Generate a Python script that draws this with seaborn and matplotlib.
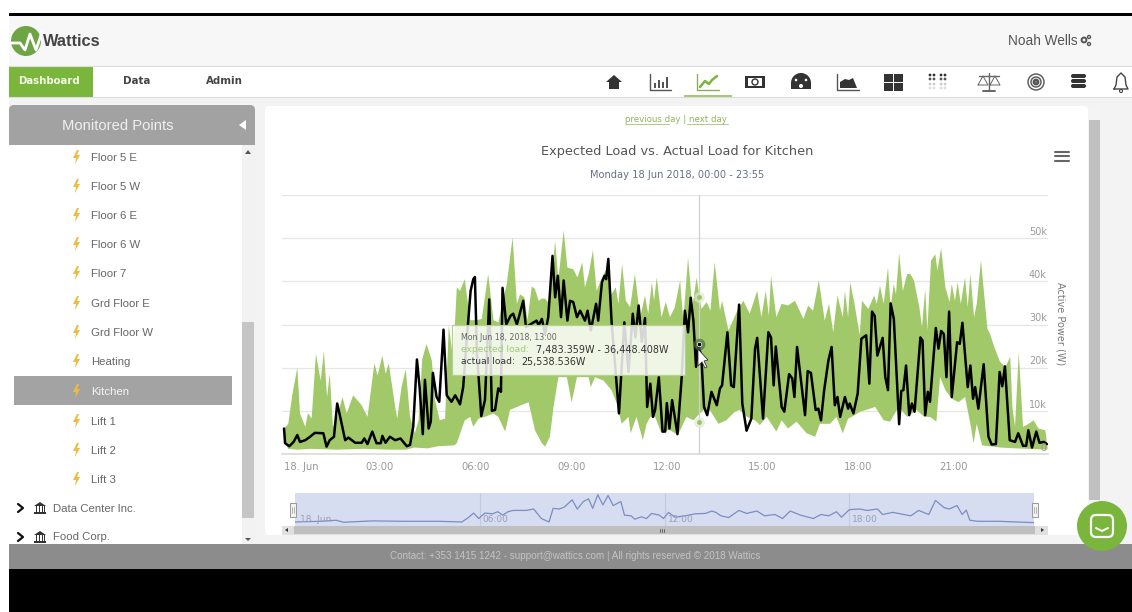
import numpy as np
import pandas as pd
import seaborn as sns
import matplotlib
matplotlib.use('Agg')
from matplotlib import pyplot as plt
from matplotlib.patches import Rectangle, Circle, Polygon, FancyBboxPatch, Wedge
from matplotlib.transforms import blended_transform_factory

# (minutes after midnight, kW)
upper_load = [(0,5.9),(8,7),(16,14),(25,20),(30,9.4),(40,6.3),(45,9.5),(52,8.2),(60,23.2),(69,17),(75,23.8),(81,13.2),
    (86,18.6),(92,6.3),(100,8.6),(110,13.2),(118,9.4),(130,13.6),(146,11.3),(157,8.6),(170,21),(176,18.2),(185,22.8),
    (191,18.6),(197,21),(209,11),(213,8.2),(221,15.5),(229,19.6),(237,8.6),(246,4.8),(253,7.8),(260,22),(268,25.5),
    (278,21.7),(284,12.5),(293,7.8),(303,8.2),(310,29.8),(318,22),(325,38.6),(331,37.8),(340,40.5),(350,31),(363,31),
    (372,31.3),(384,41.7),(394,31),(403,30.5),(419,39.4),(430,50.2),(438,34.8),(444,37),(452,36.3),(458,31),(466,38.8),
    (472,38.2),(479,35.5),(485,36),(491,36),(499,34.8),(510,49.4),(516,40.5),(526,51.8),(533,43.2),(544,42.8),(552,40.9),
    (561,44.4),(566,38.6),(573,41.7),(581,47.2),(588,37.8),(598,40.9),(608,43.2),(616,37),(624,38.6),(629,34.8),(636,44),
    (643,35.5),(651,34),(660,41.7),(670,31.7),(679,36.7),(685,32.5),(692,39.8),(696,35.5),(701,40.9),(710,31.7),(718,35.2),
    (726,31.7),(735,34),(745,40.2),(751,30.9),(760,45.5),(768,34),(776,40.9),(785,33.6),(795,35.2),(802,33.2),(810,44.4),
    (820,33.2),(824,35.5),(836,28.6),(854,33.6),(864,35.5),(876,32.5),(890,37.8),(898,31.7),(906,37.8),(912,32),(916,41.3),
    (926,31.7),(936,34.8),(948,34.4),(961,35.5),(977,31.3),(986,34.4),(995,33.2),(1006,40.2),(1017,30.9),(1025,34.8),
    (1033,28.2),(1041,36.7),(1051,31.7),(1055,37.8),(1061,31.7),(1065,39.8),(1073,34.8),(1083,27.5),(1087,35.5),(1099,33.6),
    (1110,36.7),(1115,34.8),(1121,39),(1128,34.8),(1136,43.2),(1141,34),(1147,39.4),(1151,37),(1157,46.5),(1164,37.8),
    (1172,41.7),(1178,41.7),(1185,40.2),(1195,34),(1200,29.4),(1206,38.2),(1210,28.6),(1217,44.8),(1225,46.3),(1229,42.5),
    (1236,47.7),(1244,38.6),(1252,35.2),(1256,39.4),(1262,35.5),(1267,39.8),(1273,34.8),(1281,40.9),(1286,34),(1291,41.7),
    (1298,31.7),(1303,34.8),(1311,44.9),(1323,29),(1328,27.8),(1336,24.8),(1347,21.3),(1357,20.2),(1366,22.5),(1370,10.9),
    (1375,6.3),(1382,23.6),(1390,6.3),(1397,6.7),(1410,7.8),(1419,5.9),(1432,5.5),(1436,1.7)]

lower_load = [(0,3),(8,1.2),(25,1),(50,1.2),(100,1),(150,1.2),(200,1),(230,1),(245,1.5),(270,1.3),(290,1.8),(320,2),(325,2.5),
    (340,7.8),(350,8.6),(356,6.3),(366,8.2),(378,8.6),(394,9.4),(403,8.6),(416,5.2),(425,10.2),(438,10.9),(460,12),(472,5.5),
    (485,2.5),(491,1.7),(500,4),(507,10.9),(516,17.8),(532,17.8),(541,12),(551,17.8),(573,17.8),(577,15.5),(585,17.8),(601,17),
    (616,14.8),(626,11.7),(635,7),(648,8.6),(652,4.8),(663,8.6),(675,3.2),(682,7),(689,8.6),(698,8.6),(710,4.8),(720,5.5),
    (726,5.5),(741,4.4),(757,8.6),(770,7.8),(789,10.2),(801,10.2),(817,7),(832,7.8),(848,9.8),(857,10.2),(871,8.6),(886,7.8),
    (895,6.7),(908,8.6),(926,5.2),(936,7.8),(948,5.9),(964,7.5),(983,4.8),(999,4),(1008,7),(1027,7),(1039,8.6),(1051,4.8),
    (1061,8.2),(1068,8.6),(1084,9.8),(1112,10.9),(1128,7.8),(1140,7.5),(1156,10.9),(1172,8.6),(1190,10.2),(1204,8.6),(1215,8.6),
    (1227,7.5),(1234,17.8),(1244,14.8),(1256,12.8),(1269,12),(1281,13.2),(1292,6.3),(1297,2.5),(1303,7),(1313,2),(1328,1.8),
    (1347,1.5),(1378,1.3),(1436,1)]

actual_load = [(0,5.9),(2,2.5),(10,1.8),(18,2.8),(25,4.4),(30,2.8),(40,3.2),(49,4),(58,4.9),(74,4.8),(80,1.7),(86,3.2),(94,4),
    (100,11.7),(105,9),(115,3.2),(121,3.8),(134,2.6),(146,2.6),(151,3.6),(157,2.3),(166,5.2),(174,2.5),(182,2.5),(185,4.2),
    (191,2.6),(199,4),(209,3.2),(219,3.6),(231,1.8),(237,2.1),(243,6.3),(250,21.9),(255,15.5),(261,4.6),(265,17.2),(272,5.9),
    (276,7.5),(280,18.8),(287,13.2),(292,12.1),(300,28.8),(306,13.6),(315,12.1),(322,13.6),(331,11.5),(337,15.5),(344,27),
    (351,37.8),(356,40.5),(359,41),(363,23.2),(371,8.8),(378,12.5),(386,35.8),(391,10),(397,10.2),(403,15.2),(408,14.4),
    (411,38.5),(418,30),(426,32),(431,32.5),(438,30),(450,35.5),(455,29.4),(475,30.9),(479,29.8),(485,31.3),(491,27.8),(497,31.7),
    (505,45.9),(510,36.3),(515,41.3),(521,31.7),(526,40.2),(533,30.9),(538,35.5),(544,35.2),(551,31.7),(557,33.2),(566,30.9),
    (571,33.2),(577,28.6),(587,34.8),(591,30.9),(598,39.8),(603,41.3),(606,40.5),(610,45.2),(616,30.9),(630,9.4),(640,30.5),
    (648,19),(656,32.5),(661,27),(667,34.4),(673,26),(679,31.5),(683,10.9),(689,16.3),(694,8.6),(698,10.2),(705,17.8),(712,5.2),
    (717,5.2),(720,11.8),(725,5.9),(730,12.5),(740,4.6),(748,17.8),(754,33.2),(760,28.2),(765,36.2),(770,30.9),(775,20.2),
    (779,25.5),(785,22.5),(790,10.9),(796,9),(804,14.4),(814,11.3),(820,15.2),(824,15.9),(834,28.2),(841,15.9),(846,15.5),
    (856,34.6),(862,11.7),(870,5.4),(879,8.2),(886,24.4),(890,26.9),(901,8.2),(911,28.2),(916,27),(921,15.9),(925,24.9),(936,10.9),
    (941,9.8),(950,18.5),(956,17.5),(960,13.2),(965,24.8),(980,9),(985,19.2),(991,18.8),(1000,10.2),(1005,10.5),(1010,7.8),
    (1016,14.8),(1024,21.7),(1030,24.8),(1036,11.3),(1041,13.2),(1046,8.6),(1055,13.2),(1061,10.5),(1064,11.7),(1071,9.4),
    (1079,14),(1086,26.7),(1095,27.5),(1101,16.3),(1106,33),(1111,32),(1116,22.8),(1126,26.9),(1131,17.8),(1136,14.8),(1141,34.9),
    (1147,31.3),(1157,6.9),(1161,14.6),(1165,14.8),(1170,20.5),(1176,9),(1181,11.7),(1186,9.8),(1197,27),(1201,26.3),(1206,9),
    (1211,14.4),(1215,12.1),(1226,29.2),(1231,24.4),(1236,28.5),(1241,27.8),(1246,17.8),(1251,33),(1256,13.2),(1266,25.9),
    (1271,25.5),(1276,30.4),(1286,15.5),(1291,20.5),(1296,12.8),(1300,15.5),(1306,10.5),(1316,20.8),(1325,4),(1331,2.2),(1339,2.3),
    (1346,19),(1351,15.7),(1356,20.3),(1365,3.2),(1375,2.8),(1381,4.8),(1390,1.9),(1396,1.9),(1400,5.5),(1407,1.5),(1415,5.2),
    (1421,2.6),(1429,2.8),(1435,2.3)]

navigator_load = [(0,3.6),(50,4.5),(80,5.9),(95,3.2),(150,5),(210,4.5),(280,4.5),(325,3.6),(338,9.5),(348,15.5),(358,8.2),(370,15.5),
    (385,14.5),(395,17.3),(405,12.7),(415,17.3),(425,19),(450,19),(465,20.9),(480,8.2),(495,3.6),(503,21.8),(515,20.9),(525,23.6),
    (540,33.2),(550,20.9),(562,30.9),(572,34.5),(580,21.8),(590,40),(600,26.4),(610,39),(620,25.5),(635,30.9),(642,12.7),(655,11.8),
    (662,7.3),(675,10.5),(685,8.2),(695,15),(710,12.7),(718,8.2),(728,16.4),(740,10),(760,11.8),(780,14.5),(800,15),(812,18.2),
    (820,16.4),(830,11.8),(845,9.5),(865,19),(880,15),(900,18.2),(915,11.8),(935,13.6),(950,8.2),(965,18.2),(985,12.7),(1010,8.2),
    (1025,13.6),(1040,11.8),(1055,17.3),(1065,10),(1080,20),(1100,20.9),(1115,19),(1135,20.9),(1145,13.6),(1165,16.4),(1200,11.8),
    (1215,19),(1235,13.6),(1248,32.3),(1265,22.7),(1275,20.9),(1290,25.5),(1300,13.6),(1308,19.5),(1315,5.9),(1330,4.5),(1370,4.5),
    (1440,2.7)]

x_ticks = [0, 180, 360, 540, 720, 900, 1080, 1260]
x_labels = ['18. Jun', '03:00', '06:00', '09:00', '12:00', '15:00', '18:00', '21:00']
y_ticks = [0, 10000, 20000, 30000, 40000, 50000, 60000]
y_labels = ['0', '10k', '20k', '30k', '40k', '50k']
nav_ticks = [360, 720, 1080]
nav_labels = ['06:00', '12:00', '18:00']
hover_time = 780
hover_low, hover_high, hover_actual = 7483.359, 36448.408, 25538.536
sidebar_rows = ['Floor 5 E', 'Floor 5 W', 'Floor 6 E', 'Floor 6 W', 'Floor 7', 'Grd Floor E', 'Grd Floor W',
                'Heating', 'Kitchen', 'Lift 1', 'Lift 2', 'Lift 3']
sidebar_y = [158, 187, 216, 245, 274, 304, 333, 362, 392, 422, 451, 480]


def to_frame(pairs):
    df = pd.DataFrame(pairs, columns=['minute', 'kw'])
    df['watt'] = df['kw'] * 1000
    return df


upper = to_frame(upper_load)
lower = to_frame(lower_load)
actual = to_frame(actual_load)
nav = to_frame(navigator_load)

sns.set_theme(style='white')
plt.rcParams['font.family'] = ['DejaVu Sans']
W, H = 1132, 612
fig = plt.figure(figsize=(W / 100, H / 100), dpi=100, facecolor='white')


def px_axes(x0, y0, x1, y1, **kw):
    return fig.add_axes([x0 / W, 1 - y1 / H, (x1 - x0) / W, (y1 - y0) / H], **kw)


# page chrome underneath, drawn in pixels
ui = px_axes(0, 0, W, H, zorder=0)
ui.set_xlim(0, W)
ui.set_ylim(H, 0)
ui.axis('off')


def box(a, x0, y0, x1, y1, c, **kw):
    a.add_patch(Rectangle((x0, y0), x1 - x0, y1 - y0, fc=c, ec='none', **kw))


def bolt(a, x, y):
    pts = [(x + 1, y - 8), (x - 3, y), (x, y), (x - 1, y + 6), (x + 4, y - 3), (x + 1, y - 3), (x + 3, y - 8)]
    a.add_patch(Polygon(pts, fc='#eebb45', ec='none'))


def bank(a, x, y):
    a.add_patch(Polygon([(x - 6, y - 2), (x, y - 6), (x + 6, y - 2)], fc='#333333', ec='none'))
    for dx in (-4, -1, 2, 4):
        box(a, x + dx, y - 2, x + dx + 1.2, y + 4, '#333333')
    box(a, x - 6, y + 4, x + 6, y + 5.5, '#333333')


box(ui, 9, 13, W, 16, '#000000')
box(ui, 9, 16, W, 66, '#f7f7f7')
box(ui, 9, 66, W, 97, '#ffffff')
box(ui, 9, 97, W, 544, '#f3f3f3')
ui.plot([9, W], [66, 66], color='#dddddd', lw=0.8)
ui.plot([9, W], [97, 97], color='#dddddd', lw=0.8)
box(ui, 9, 544, W, 569, '#8c8c8c')
box(ui, 9, 569, W, H, '#000000')
ui.text(575, 556, 'Contact: +353 1415 1242 - support@wattics.com | All rights reserved \u00a9 2018 Wattics',
        color='#c4c4c4', fontsize=7.1, ha='center', va='center', family='Liberation Sans')

# logo and top nav
ui.add_patch(Circle((26, 41), 15, fc='#6da544', ec='none'))
ui.plot([11, 20, 25, 30, 36, 42], [43, 43, 50, 34, 50, 32], color='white', lw=2)
ui.text(43, 41, 'Wattics', fontsize=11.8, fontweight='bold', color='#444444', va='center', family='Liberation Sans')
ui.text(1078, 41, 'Noah Wells', fontsize=9.8, color='#555555', ha='right', va='center', family='Liberation Sans')
ui.add_patch(Circle((1084, 40), 2.4, fc='none', ec='#555555', lw=1.4))
ui.add_patch(Circle((1089, 37), 1.5, fc='none', ec='#555555', lw=1))
ui.add_patch(Circle((1089, 44), 1.5, fc='none', ec='#555555', lw=1))
box(ui, 9, 66, 93, 97, '#7ab53c')
ui.text(49, 81, 'Dashboard', fontsize=7.3, fontweight='bold', color='#f4f8e8', ha='center', va='center')
ui.text(137, 81, 'Data', fontsize=7.4, fontweight='bold', color='#444444', ha='center', va='center')
ui.text(224, 81, 'Admin', fontsize=7.4, fontweight='bold', color='#444444', ha='center', va='center')

# toolbar icons
dark = '#333333'
ui.add_patch(Polygon([(606, 82), (614, 75), (622, 82), (619, 82), (619, 89), (609, 89), (609, 82)], fc=dark, ec='none'))
ui.plot([650, 650, 671], [74, 90, 90], color='#555555', lw=1)
for bx, bh in zip([654, 658, 662, 666], [5, 8, 6, 11]):
    box(ui, bx, 88 - bh, bx + 2, 88, '#555555')
ui.plot([697, 697, 719], [74, 90, 90], color='#8cae5a', lw=1)
ui.plot([700, 705, 709, 712, 717], [87, 81, 84, 80, 76], color='#7ab53c', lw=1.8)
box(ui, 684, 95, 732, 97, '#a5c96d')
box(ui, 745, 76, 765, 88, dark)
box(ui, 748, 78, 762, 86, '#ffffff')
ui.add_patch(Circle((755, 82), 3, fc='none', ec=dark, lw=1))
ui.add_patch(Wedge((801, 83), 10, 180, 360, fc=dark, ec='none'))
box(ui, 791, 83, 811, 89, dark)
ui.add_patch(Circle((801, 86), 2, fc='white', ec='none'))
ui.add_patch(Circle((796, 80), 1.3, fc='white', ec='none'))
ui.add_patch(Circle((806, 80), 1.3, fc='white', ec='none'))
ui.plot([837, 837, 859], [74, 90, 90], color='#555555', lw=1)
ui.add_patch(Polygon([(840, 88), (840, 82), (845, 79), (849, 80), (853, 78), (857, 88)], fc=dark, ec='none'))
for gx, gy in [(884, 74), (894, 74), (884, 83), (894, 83)]:
    box(ui, gx, gy, gx + 8.5, gy + 7.5, dark)
for dx in [930, 934, 941, 945]:
    for dy, dc in zip([75, 79, 84, 88], ['#333333', '#555555', '#cccccc', '#dddddd']):
        ui.add_patch(Circle((dx, dy), 1.4, fc=dc, ec='none'))
ui.plot([989, 989], [73, 91], color='#666666', lw=1)
ui.plot([979, 999], [76, 76], color='#666666', lw=1)
ui.plot([978, 983, 988, 978], [85, 76, 85, 85], color='#666666', lw=0.7)
ui.plot([990, 995, 1000, 990], [85, 76, 85, 85], color='#666666', lw=0.7)
ui.plot([983, 995], [91, 91], color='#666666', lw=1.4)
for r, lw_ in [(8, 1), (5, 1), (2, 2)]:
    ui.add_patch(Circle((1036, 82), r, fc='none', ec='#555555', lw=lw_))
for yy in [76, 81, 86]:
    ui.add_patch(FancyBboxPatch((1071, yy - 2), 15, 4, boxstyle='round,pad=0,rounding_size=2', fc=dark, ec='none'))
ui.plot([1114, 1116, 1117, 1121, 1125, 1126, 1128, 1114], [89, 85, 77, 73, 77, 85, 89, 89], color='#444444', lw=1)
ui.add_patch(Circle((1121, 91), 1.5, fc='none', ec='#444444', lw=0.8))

# sidebar
box(ui, 9, 145, 242, 544, '#ffffff')
ui.add_patch(FancyBboxPatch((9, 105), 246, 45, boxstyle='round,pad=0,rounding_size=5', fc='#a2a2a2', ec='none'))
box(ui, 9, 145, 255, 150, '#ffffff')
box(ui, 242, 145, 255, 544, '#f2f2f2')
box(ui, 242, 322, 254, 518, '#c5c5c5')
ui.text(118, 126, 'Monitored Points', color='#f0f0f0', fontsize=10.6, ha='center', va='center', family='Liberation Sans')
ui.add_patch(Polygon([(239, 125), (246, 120), (246, 130)], fc='white', ec='none'))
ui.add_patch(Polygon([(245, 154), (248, 150), (251, 154)], fc='#555555', ec='none'))
ui.add_patch(Polygon([(245, 538), (248, 541), (251, 538)], fc='#555555', ec='none'))
box(ui, 14, 376, 232, 405, '#a3a3a3')
for name, y in zip(sidebar_rows, sidebar_y):
    bolt(ui, 76, y)
    ui.text(91, y, name, color='#f5f5f5' if name == 'Kitchen' else '#666666', fontsize=8.2, va='center',
            family='Liberation Sans')
for name, y in [('Data Center Inc.', 508), ('Food Corp.', 537)]:
    ui.plot([18, 23, 18], [y - 4, y, y + 4], color='#111111', lw=1.6)
    bank(ui, 40, y)
    ui.text(53, y + 0.5, name, color='#666666', fontsize=8.2, va='center', family='Liberation Sans')

# chart panel
ui.add_patch(FancyBboxPatch((265, 106), 823, 429, boxstyle='round,pad=0,rounding_size=4', fc='#ffffff', ec='none'))
box(ui, 1088, 106, 1100, 535, '#f4f4f4')
box(ui, 1089, 120, 1100, 500, '#c0c0c0')
ui.text(676, 119, 'previous day | next day', color='#8fb45c', fontsize=6.2, ha='center', va='center')
ui.plot([625, 669], [124, 124], color='#8fb45c', lw=0.5)
ui.plot([687, 728], [124, 124], color='#8fb45c', lw=0.5)
ui.text(677, 151.5, 'Expected Load vs. Actual Load for Kitchen', color='#555555', fontsize=9.25, ha='center', va='center')
ui.text(677, 175, 'Monday 18 Jun 2018, 00:00 - 23:55', color='#666e8a', fontsize=7.1, ha='center', va='center')
for yy in [151.5, 156, 160.5]:
    ui.plot([1055, 1069], [yy, yy], color='#666666', lw=1.5)
ui.text(1060, 324, 'Active Power (W)', color='#777777', fontsize=7, rotation=270, ha='center', va='center')

# main chart
ax = px_axes(282, 195, 1048, 454, zorder=2)
ax.patch.set_alpha(0)
ax.set_xlim(-3.8, 1437)
ax.set_ylim(0, 60000)
ax.grid(axis='y', color='#e6e6e6', lw=0.9)
ax.set_axisbelow(True)
ax.set_yticks(y_ticks)
ax.set_xticks(x_ticks)
ax.set_xticklabels(x_labels, color='#999999', fontsize=7.2)
ax.tick_params(axis='x', length=0, pad=6)
ax.tick_params(axis='y', length=0, labelleft=False)
for s in ['top', 'left', 'right']:
    ax.spines[s].set_visible(False)
ax.spines['bottom'].set_color('#dcdcdc')
ax.get_xticklabels()[0].set_ha('left')

ax.fill(np.concatenate([upper['minute'], lower['minute'][::-1]]),
        np.concatenate([upper['watt'], lower['watt'][::-1]]),
        color='#a1c96a', lw=0, zorder=2)
ax.axvline(hover_time, color='#d0d0d0', lw=0.9, zorder=3)
sns.lineplot(data=actual, x='minute', y='watt', color='black', lw=1.8, ax=ax, zorder=4, estimator=None, sort=False,
             solid_joinstyle='round')
ax.set_xlabel('')
ax.set_ylabel('')
ax.scatter([hover_time] * 2, [hover_low, hover_high], s=60, color='#dfe8d0', alpha=0.7, lw=0, zorder=5)
ax.scatter([hover_time] * 2, [hover_low, hover_high], s=12, color='#9cc26a', lw=0, zorder=6)
ax.scatter([hover_time], [hover_actual], s=70, color='#4d6b44', alpha=0.7, lw=0, zorder=5)
ax.scatter([hover_time], [hover_actual], s=10, color='black', edgecolor='white', lw=0.5, zorder=6)

tr = blended_transform_factory(ax.transAxes, ax.transData)
for v, lab in zip(y_ticks, y_labels):
    ax.text(0.9985, v + 300, lab, transform=tr, color='#999999', fontsize=7, ha='right', va='bottom', zorder=7)

# navigator
box(ui, 282, 493, 1048, 526, '#ffffff')
box(ui, 282, 526, 1048, 535, '#e0e0e0')
box(ui, 294, 526, 1035, 534, '#bfbfbf')
na = px_axes(295, 493, 1034, 526, zorder=2)
na.set_facecolor('#d6ddf0')
na.set_xlim(0, 1440)
na.set_ylim(-1.8, 42.3)
na.set_xticks(nav_ticks)
na.set_yticks([])
na.grid(axis='x', color='#c3cadf', lw=0.8)
na.set_axisbelow(True)
na.tick_params(axis='x', length=0, labelbottom=False)
for s in na.spines.values():
    s.set_visible(False)
sns.lineplot(data=nav, x='minute', y='kw', color='#7c8dc2', lw=0.9, ax=na, estimator=None, sort=False)
na.set_xlabel('')
na.set_ylabel('')
na.text(10, 7.5, '18. Jun', color='#9aa0b4', fontsize=6.5, va='center')
for t, lab in zip(nav_ticks, nav_labels):
    na.text(t + 6, 7.5, lab, color='#9aa0b4', fontsize=6.5, va='center')

# things on top: tooltip, cursor, handles, chat bubble
top = px_axes(0, 0, W, H, zorder=5)
top.patch.set_alpha(0)
top.set_xlim(0, W)
top.set_ylim(H, 0)
top.axis('off')
top.add_patch(Rectangle((452, 325), 233, 50, fc='white', alpha=0.84, ec='none'))
top.add_patch(Rectangle((452, 325), 233, 50, fc='none', ec='#b5d08f', lw=0.9))
top.text(461, 338, 'Mon Jun 18, 2018, 13:00', color='#666666', fontsize=5.7, va='center')
top.text(461, 349.5, 'expected load:', color='#a3c974', fontsize=6.6, va='center')
top.text(536, 349.5, f'{hover_low:,.3f}W - {hover_high:,.3f}W', color='#333333', fontsize=6.9, va='center', fontweight='medium')
top.text(461, 362, 'actual load:', color='#333333', fontsize=6.6, va='center')
top.text(521, 362, f'{hover_actual:,.3f}W', color='#333333', fontsize=6.9, va='center')
top.add_patch(Polygon([(698, 349), (698, 366), (702, 362), (705, 368), (707, 367), (704, 361), (708, 360)],
                      fc='white', ec='#333333', lw=0.6))
for hx in [293, 1035]:
    top.add_patch(Rectangle((hx - 3, 503), 6, 14, fc='#f2f2f2', ec='#999999', lw=0.7))
    top.plot([hx - 1, hx - 1], [507, 513], color='#999999', lw=0.5)
    top.plot([hx + 1, hx + 1], [507, 513], color='#999999', lw=0.5)
for xx in [660, 662, 664]:
    top.plot([xx, xx], [529, 532], color='#555555', lw=0.6)
top.add_patch(Polygon([(285, 530), (288, 528), (288, 532)], fc='#333333', ec='none'))
top.add_patch(Polygon([(1044, 530), (1041, 528), (1041, 532)], fc='#333333', ec='none'))
top.add_patch(Circle((1102, 526), 25, fc='#7ab53c', ec='none'))
top.add_patch(FancyBboxPatch((1091, 515), 22, 22, boxstyle='round,pad=0,rounding_size=5', fc='none', ec='white', lw=1.6))
top.plot([1096, 1102, 1108], [528, 531, 528], color='white', lw=1.4)

fig.savefig('out.png', dpi=100, facecolor='white')
